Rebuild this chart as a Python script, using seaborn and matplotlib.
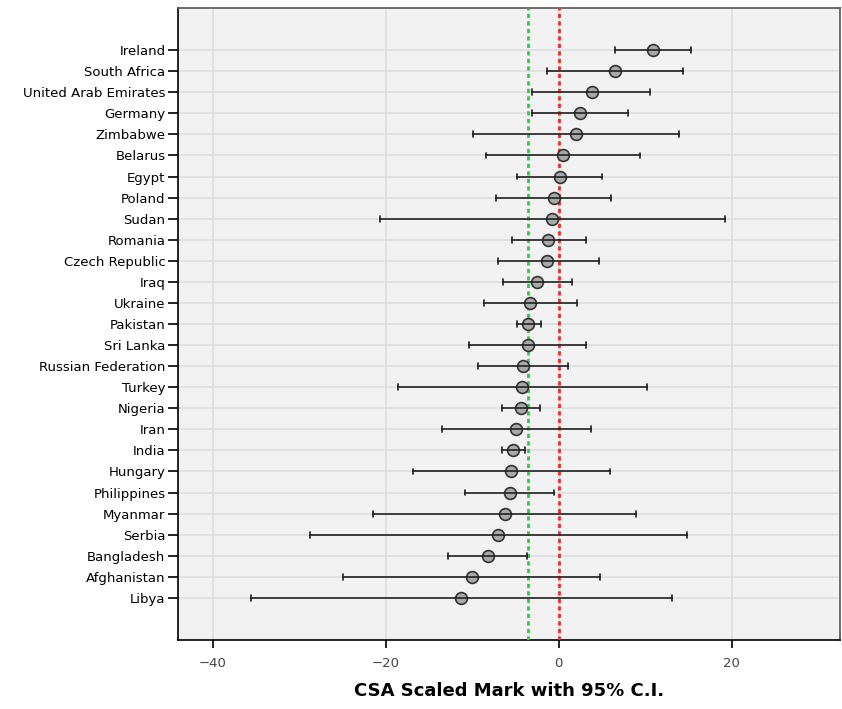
import pandas as pd
import matplotlib
matplotlib.use("Agg")
import matplotlib.pyplot as plt
import seaborn as sns

# Countries, top to bottom
countries = ["Ireland", "South Africa", "United Arab Emirates", "Germany", "Zimbabwe",
             "Belarus", "Egypt", "Poland", "Sudan", "Romania", "Czech Republic", "Iraq",
             "Ukraine", "Pakistan", "Sri Lanka", "Russian Federation", "Turkey", "Nigeria",
             "Iran", "India", "Hungary", "Philippines", "Myanmar", "Serbia", "Bangladesh",
             "Afghanistan", "Libya"]

# Mean CSA scaled mark and 95% C.I. bounds
mean = [10.9, 6.5, 3.8, 2.5, 2.0, 0.5, 0.1, -0.6, -0.8, -1.2, -1.3, -2.5, -3.3, -3.5,
        -3.6, -4.1, -4.2, -4.4, -4.9, -5.3, -5.5, -5.6, -6.2, -7.0, -8.2, -10.0, -11.3]
ci_low = [6.5, -1.4, -3.1, -3.1, -9.9, -8.4, -4.8, -7.3, -20.7, -5.4, -7.0, -6.4, -8.6, -4.8,
          -10.4, -9.3, -18.6, -6.6, -13.5, -6.6, -16.9, -10.8, -21.5, -28.8, -12.8, -24.9, -35.6]
ci_high = [15.3, 14.4, 10.6, 8.0, 13.9, 9.4, 5.0, 6.0, 19.2, 3.2, 4.6, 1.5, 2.1, -2.0,
           3.2, 1.1, 10.2, -2.2, 3.7, -3.9, 5.9, -0.5, 8.9, 14.8, -3.7, 4.8, 13.1]

overall_mean = -3.6  # green reference line

# long format: three values per country; median = mean, min/max = C.I.
df = pd.DataFrame({
    "country": countries * 3,
    "value": mean + ci_low + ci_high,
})

sns.set_style("whitegrid")
plt.rcParams["font.family"] = ["DejaVu Sans"]

fig = plt.figure(figsize=(8.42, 7.09), dpi=100)
ax = fig.add_axes([0.2114, 0.0973, 0.7862, 0.8914])
ax.set_facecolor("#f2f2f2")

sns.pointplot(data=df, x="value", y="country", order=countries,
              estimator="median", errorbar=lambda v: (v.min(), v.max()),
              linestyle="none", marker="o", color="black", capsize=0.28,
              markersize=8.5, markerfacecolor="#a8a8a8", markeredgecolor="#333333",
              markeredgewidth=1.2, err_kws={"linewidth": 1.2, "color": "#222222"},
              ax=ax, zorder=5)

ax.axvline(overall_mean, color="#2ecc40", linestyle=(0, (1.5, 1.2)), linewidth=2, zorder=3)
ax.axvline(0, color="#ee2a2a", linestyle=(0, (1.5, 1.2)), linewidth=2, zorder=3)

ax.set_xlim(-44, 32.5)
ax.set_ylim(len(countries) + 1, -2)
ax.set_xticks([-40, -20, 0, 20])

ax.grid(True, color="#dcdcdc", linewidth=1.1)
ax.set_axisbelow(True)

for side in ["left", "bottom"]:
    ax.spines[side].set_color("black")
    ax.spines[side].set_linewidth(1.2)
for side in ["top", "right"]:
    ax.spines[side].set_color("#555555")
    ax.spines[side].set_linewidth(1.2)

ax.tick_params(axis="y", length=7, width=1.2, color="black", labelsize=9.5, pad=2,
               left=True, labelcolor="black")
ax.tick_params(axis="x", length=6, width=1.2, color="black", labelsize=9.5,
               bottom=True, labelcolor="#444444", pad=6)

ax.set_ylabel("")
ax.set_xlabel("CSA Scaled Mark with 95% C.I.", fontsize=13, fontweight="bold",
              labelpad=9, color="black")

fig.savefig("out.png", dpi=100)
